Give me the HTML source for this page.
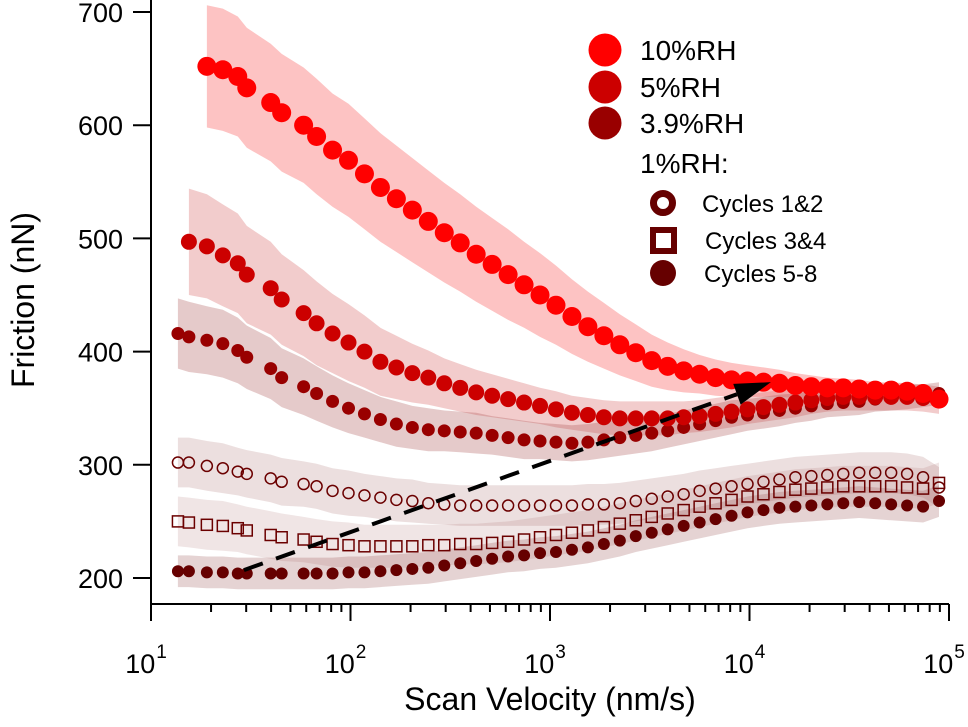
<!DOCTYPE html>
<html><head><meta charset="utf-8"><style>
html,body{margin:0;padding:0;background:#fff;}
svg{display:block;font-family:"Liberation Sans",Arial,sans-serif;}
</style></head><body>
<svg id="chart" width="968" height="727" viewBox="0 0 968 727">
<g id="bands"></g>
<g id="marks"></g>
<g id="axes"></g>
<g id="legend"></g>
</svg>
<script>
const logV = [1.135,1.19,1.28,1.36,1.435,1.48,1.60,1.655,1.765,1.83,1.91,1.99,2.07,2.15,2.23,2.31,2.39,2.47,2.55,2.63,2.71,2.79,2.87,2.95,3.03,3.11,3.19,3.27,3.35,3.43,3.51,3.59,3.67,3.75,3.83,3.91,3.99,4.07,4.15,4.23,4.31,4.39,4.47,4.55,4.63,4.71,4.79,4.87,4.95];
const rh10 = [null,null,652,649,643,633,620,611,600,590,578,569,557,545,535,525,515,505,496,486,477,468,459,450,441,431,422,414,406,399,392,387,383,380,377,375,374,373,372,370,369,368,368,367,366,366,365,363,358];
const rh10Sd = [0,0,54,54,53,53,52,52,51,51,50,50,49,48,47,46,45,44,43,42,41,40,38,37,35,33,31,29,27,25,23,21,19,17,16,15,14,13,12,11,10,9,8,8,7,7,7,6,6];
const rh5 = [null,497,493,485,478,468,456,446,434,425,416,408,400,391,386,381,377,372,368,364,361,358,355,352,349,346,344,342,341,341,341,341,342,343,345,347,349,351,353,355,357,359,360,360,360,360,360,359,357];
const rh5Sd = [0,47,46,45,44,43,41,40,38,37,35,34,32,30,28,26,24,22,21,20,19,18,17,16,16,15,15,15,15,15,15,15,14,14,14,14,13,13,13,13,12,12,12,12,12,12,12,12,12];
const rh39 = [416,413,410,407,401,395,385,377,369,363,356,350,345,340,336,333,331,330,329,328,326,324,322,321,320,319,320,322,324,326,328,330,333,336,339,342,344,346,348,350,352,354,355,356,358,359,360,361,363];
const rh39Sd = [31,31,30,30,29,28,27,26,25,24,23,22,21,20,20,19,19,18,18,18,17,17,17,16,16,16,16,16,16,16,16,15,15,15,15,15,14,14,14,13,13,12,12,12,11,11,11,10,10];
const cyc12 = [302,302,299,297,294,292,288,285,283,281,277,275,273,271,269,268,266,265,264,264,264,264,264,264,264,264,265,265,266,268,270,272,274,277,279,281,283,285,287,289,290,291,292,293,293,293,292,289,280];
const cyc34 = [250,249,247,246,244,242,238,236,234,232,230,229,228,228,228,228,229,229,230,230,231,232,234,236,238,240,242,245,248,251,254,257,260,263,266,269,272,274,276,278,279,280,281,281,281,281,280,279,284];
const cyc58 = [206,206,205,205,204,204,204,204,204,204,204,205,205,206,207,208,209,211,213,215,217,219,220,222,223,225,227,230,233,237,240,243,246,249,252,255,258,260,262,263,264,265,266,267,266,265,264,263,268];
const cycSd = [22,22,22,22,21,21,21,21,20,20,20,20,19,19,19,19,18,18,18,18,18,18,18,18,18,18,18,18,18,18,18,18,18,18,18,18,18,18,18,18,18,18,18,18,18,18,18,18,18];
const cyc58Sd = [14,14,14,14,14,14,14,14,14,14,14,14,14,14,14,14,14,14,14,14,14,14,14,14,14,14,14,14,14,14,14,14,14,14,14,14,14,14,14,14,14,14,14,14,14,14,14,14,14];
const xTicks = [1,2,3,4,5];
const yTicks = [200,300,400,500,600,700];
const arrowFrom = [1.466,207];
const arrowTo = [4.107,373];

const NS='http://www.w3.org/2000/svg';
const X0=151, XDEC=199.5, YBASE=578, YPER=1.132;
function xs(l){return X0+(l-1)*XDEC;}
function ys(v){return YBASE-(v-200)*YPER;}
function mk(tag,attrs,parent){const e=document.createElementNS(NS,tag);for(const k in attrs)e.setAttribute(k,attrs[k]);parent.appendChild(e);return e;}
const gB=document.getElementById('bands'), gM=document.getElementById('marks'), gA=document.getElementById('axes'), gL=document.getElementById('legend');

function band(vals,sd,fill,name){
  const up=[],dn=[];
  vals.forEach((v,i)=>{if(v==null)return;up.push(xs(logV[i]).toFixed(1)+','+ys(v+sd[i]).toFixed(1));dn.unshift(xs(logV[i]).toFixed(1)+','+ys(v-sd[i]).toFixed(1));});
  const p=mk('polygon',{points:up.concat(dn).join(' '),fill:fill},gB);
  
  
}
band(rh10,rh10Sd,'rgba(252,170,170,0.7)','band-10rh');
band(rh5,rh5Sd,'rgba(220,120,120,0.38)','band-5rh');
band(rh39,rh39Sd,'rgba(170,80,80,0.3)','band-3-9rh');
band(cyc12,cycSd,'rgba(170,110,110,0.22)','band-cycles-1-2');
band(cyc34,cycSd,'rgba(170,110,110,0.18)','band-cycles-3-4');
band(cyc58,cyc58Sd,'rgba(150,80,80,0.25)','band-cycles-5-8');

function dots(vals,r,fill,name){
  vals.forEach((v,i)=>{if(v==null)return;
    const c=mk('circle',{cx:xs(logV[i]),cy:ys(v),r:r,fill:fill},gM);
    
    
  });
}
function rings(vals,r,col,name){
  vals.forEach((v,i)=>{if(v==null)return;
    const c=mk('circle',{cx:xs(logV[i]),cy:ys(v),r:r,fill:'none',stroke:col,'stroke-width':1.5},gM);
    
    
  });
}
function squares(vals,s,col,name){
  vals.forEach((v,i)=>{if(v==null)return;
    const c=mk('rect',{x:xs(logV[i])-s/2,y:ys(v)-s/2,width:s,height:s,fill:'none',stroke:col,'stroke-width':1.5},gM);
    
    
  });
}
rings(cyc12,5.5,'#6b0000','point-cycles-1-2');
squares(cyc34,11,'#6b0000','point-cycles-3-4');
dots(cyc58,6,'#660000','point-cycles-5-8');
dots(rh39,6.5,'#990000','point-3-9rh');
dots(rh5,8,'#cc0000','point-5rh');
dots(rh10,9.5,'#ff0000','point-10rh');

(function(){
  const x1=xs(arrowFrom[0]),y1=ys(arrowFrom[1]),x2=xs(arrowTo[0]),y2=ys(arrowTo[1]);
  const ang=Math.atan2(y2-y1,x2-x1),L=36,W=11;
  const bx=x2-L*Math.cos(ang),by=y2-L*Math.sin(ang);
  const ln=mk('line',{x1:x1,y1:y1,x2:bx,y2:by,stroke:'#000','stroke-width':4,'stroke-dasharray':'20 14'},gM);
  
  
  const px=-Math.sin(ang),py=Math.cos(ang);
  const hd=mk('polygon',{points:`${x2},${y2} ${bx+px*W},${by+py*W} ${bx-px*W},${by-py*W}`,fill:'#000'},gM);
  
  
})();

const yax=mk('line',{x1:X0,y1:0,x2:X0,y2:604,stroke:'#000','stroke-width':2},gA);


const xax=mk('line',{x1:X0-1,y1:604,x2:949,y2:604,stroke:'#000','stroke-width':2},gA);


yTicks.forEach(v=>{
  const t=mk('line',{x1:X0-18,y1:ys(v),x2:X0,y2:ys(v),stroke:'#000','stroke-width':2},gA);
  
  
  const l=mk('text',{x:X0-28,y:ys(v)+10,'text-anchor':'end','font-size':27,fill:'#000'},gA);
  l.textContent=v;
  
  
});
xTicks.forEach((d,i)=>{
  const t=mk('line',{x1:xs(d),y1:604,x2:xs(d),y2:621,stroke:'#000','stroke-width':2},gA);
  
  
  const l=mk('text',{x:xs(d)-5,y:673,'text-anchor':'middle','font-size':27,fill:'#000'},gA);
  
  
  l.textContent='10';
  const s=mk('tspan',{dy:-15,dx:1,'font-size':19},l);
  s.textContent=d;
  if(i<xTicks.length-1){
    for(let m=2;m<=9;m++){
      const xm=xs(d+Math.log10(m));
      const mt=mk('line',{x1:xm,y1:604,x2:xm,y2:612,stroke:'#000','stroke-width':2},gA);
      
      
    }
  }
});
const xt=mk('text',{x:550,y:710,'text-anchor':'middle','font-size':32,fill:'#000'},gA);
xt.textContent='Scan Velocity (nm/s)';


const yt=mk('text',{x:0,y:0,'text-anchor':'middle','font-size':32,fill:'#000',transform:'translate(34,300) rotate(-90)'},gA);
yt.textContent='Friction (nN)';



const legBig=[['10%RH','#ff0000',50],['5%RH','#cc0000',87],['3.9%RH','#990000',123]];
legBig.forEach(e=>{
  const c=mk('circle',{cx:605,cy:e[2],r:16.5,fill:e[1]},gL);
  
  
  const t=mk('text',{x:640,y:e[2]+10,'font-size':28,fill:'#000'},gL);
  t.textContent=e[0];
  
  
});
const h=mk('text',{x:640,y:173,'font-size':28,fill:'#000'},gL);
h.textContent='1%RH:';


const lc1=mk('circle',{cx:663,cy:203,r:9.5,fill:'none',stroke:'#660000','stroke-width':7},gL);


const lc2=mk('rect',{x:653,y:230,width:21,height:21,fill:'none',stroke:'#660000','stroke-width':6},gL);


const lc3=mk('circle',{cx:663,cy:273,r:13,fill:'#660000'},gL);


[['Cycles 1&2',702,212],['Cycles 3&4',705,249],['Cycles 5-8',704,282]].forEach(e=>{
  const t=mk('text',{x:e[1],y:e[2],'font-size':24,fill:'#000'},gL);
  t.textContent=e[0];
  
  
});
</script>
</body></html>
